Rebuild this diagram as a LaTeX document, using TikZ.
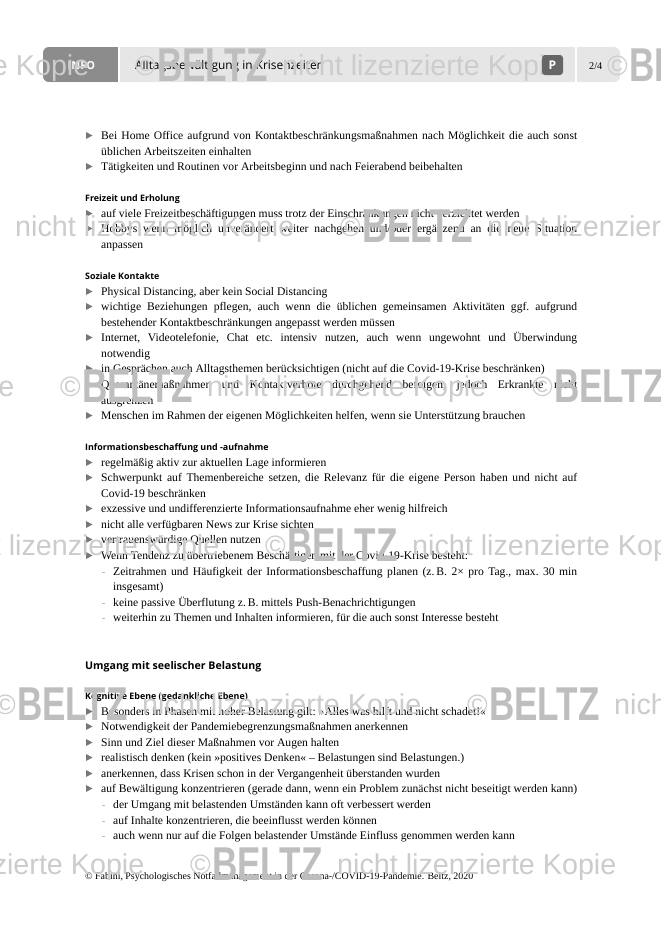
\documentclass[tikz,border=0pt]{standalone}
\usepackage{fontspec}
\usepackage{graphicx}
\setmainfont{Liberation Serif}
\setsansfont{Open Sans}
\newfontfamily\wmfont{Liberation Sans}
\definecolor{barlight}{HTML}{E6E6E6}
\definecolor{bardark}{HTML}{8C8C8C}
\definecolor{badge}{HTML}{666666}
\definecolor{wmgrey}{HTML}{BEBEBE}
\definecolor{wmlight}{HTML}{CCCCCC}
\definecolor{markgrey}{HTML}{777777}
\tikzset{
  body/.style={anchor=base west,inner sep=0pt,font=\fontsize{11.6}{13}\selectfont\frenchspacing},
  head/.style={anchor=base west,inner sep=0pt,font=\sffamily\bfseries\fontsize{8.9}{10}\selectfont},
  wmtext/.style={anchor=base west,inner sep=0pt,text=wmlight}
}
\newcommand{\bulmark}[1]{\fill[markgrey] (86,#1-7) -- (92.5,#1-3.5) -- (86,#1) -- cycle;}
\newcommand{\dashmark}[1]{\draw[wmgrey,line width=0.6pt] (102,#1-3) -- (105,#1-3);}
\newcommand{\full}[2][476]{\makebox[#1pt][s]{#2}}
\begin{document}
\begin{tikzpicture}[x=1pt,y=-1pt]
    \useasboundingbox (0,0) rectangle (661,935);
    \fill[white] (0,0) rectangle (661,935);
    % header bar
    \fill[barlight,rounded corners=6pt] (43,47) rectangle (620,82);
    \fill[white] (575,47) rectangle (577,82);
    \fill[white] (118,47) rectangle (119.5,82);
    \begin{scope}
      \clip[rounded corners=6pt] (43,47) rectangle (620,82);
      \fill[bardark] (43,47) rectangle (118,82);
    \end{scope}
    \node[head,text=white,font=\sffamily\bfseries\fontsize{11}{13}\selectfont] (info) at (67.5,69.5) {INFO};
    \node[anchor=base west,inner sep=0pt,font=\sffamily\fontsize{11.9}{13}\selectfont] (title) at (135,69.5) {Alltagsbewältigung in Krisenzeiten};
    \node[anchor=base west,inner sep=0pt,font=\fontsize{10.3}{12}\selectfont] (pagenr) at (589,69) {2/4};
    % first block
    \bulmark{139}
    \node[body] (a1) at (101,139) {\full{Bei Home Office aufgrund von Kontaktbeschränkungsmaßnahmen nach Möglichkeit die auch sonst}};
    \node[body] (a2) at (101,155) {üblichen Arbeitszeiten einhalten};
    \bulmark{170}
    \node[body] (a3) at (101,170) {Tätigkeiten und Routinen vor Arbeitsbeginn und nach Feierabend beibehalten};
    % Freizeit
    \node[head] (h1) at (85,201) {Freizeit und Erholung};
    \bulmark{217}
    \node[body] (b1) at (101,217) {auf viele Freizeitbeschäftigungen muss trotz der Einschränkungen nicht verzichtet werden};
    \bulmark{232}
    \node[body] (b2) at (101,232) {\full{Hobbys wenn möglich unverändert weiter nachgehen und/oder ergänzend an die neue Situation}};
    \node[body] (b3) at (101,248) {anpassen};
    % Kontakte
    \node[head] (h2) at (85,279) {Soziale Kontakte};
    \bulmark{295}
    \node[body] (c1) at (101,295) {Physical Distancing, aber kein Social Distancing};
    \bulmark{310}
    \node[body] (c2) at (101,310) {\full{wichtige Beziehungen pflegen, auch wenn die üblichen gemeinsamen Aktivitäten ggf. aufgrund}};
    \node[body] (c3) at (101,326) {bestehender Kontaktbeschränkungen angepasst werden müssen};
    \bulmark{341}
    \node[body] (c4) at (101,341) {\full{Internet, Videotelefonie, Chat etc. intensiv nutzen, auch wenn ungewohnt und Überwindung}};
    \node[body] (c5) at (101,357) {notwendig};
    \bulmark{372}
    \node[body] (c6) at (101,372) {in Gesprächen auch Alltagsthemen berücksichtigen (nicht auf die Covid-19-Krise beschränken)};
    \bulmark{388}
    \node[body] (c7) at (101,388) {\full{Quarantänemaßnahmen und Kontaktverbote durchgehend befolgen, jedoch Erkrankte nicht}};
    \node[body] (c8) at (101,404) {ausgrenzen};
    \bulmark{419}
    \node[body] (c9) at (101,419) {Menschen im Rahmen der eigenen Möglichkeiten helfen, wenn sie Unterstützung brauchen};
    % Information
    \node[head] (h3) at (85,450) {Informationsbeschaffung und -aufnahme};
    \bulmark{466}
    \node[body] (d1) at (101,466) {regelmäßig aktiv zur aktuellen Lage informieren};
    \bulmark{481}
    \node[body] (d2) at (101,481) {\full{Schwerpunkt auf Themenbereiche setzen, die Relevanz für die eigene Person haben und nicht auf}};
    \node[body] (d3) at (101,497) {Covid-19 beschränken};
    \bulmark{512}
    \node[body] (d4) at (101,512) {exzessive und undifferenzierte Informationsaufnahme eher wenig hilfreich};
    \bulmark{528}
    \node[body] (d5) at (101,528) {nicht alle verfügbaren News zur Krise sichten};
    \bulmark{543}
    \node[body] (d6) at (101,543) {vertrauenswürdige Quellen nutzen};
    \bulmark{559}
    \node[body] (d7) at (101,559) {Wenn Tendenz zu übertriebenem Beschäftigen mit der Covid-19-Krise besteht:};
    \dashmark{575}
    \node[body] (d8) at (113,575) {\full[464]{Zeitrahmen und Häufigkeit der Informationsbeschaffung planen (z.\,B. 2× pro Tag., max. 30 min}};
    \node[body] (d9) at (113,590) {insgesamt)};
    \dashmark{606}
    \node[body] (d10) at (113,606) {keine passive Überflutung z.\,B. mittels Push-Benachrichtigungen};
    \dashmark{621}
    \node[body] (d11) at (113,621) {weiterhin zu Themen und Inhalten informieren, für die auch sonst Interesse besteht};
    % seelische Belastung
    \node[head,font=\sffamily\bfseries\fontsize{10.6}{12}\selectfont] (h4) at (85,669) {Umgang mit seelischer Belastung};
    \node[head] (h5) at (85,699) {Kognitive Ebene (gedankliche Ebene)};
    \bulmark{715}
    \node[body] (e1) at (101,715) {Besonders in Phasen mit hoher Belastung gilt: »Alles was hilft und nicht schadet!«};
    \bulmark{730}
    \node[body] (e2) at (101,730) {Notwendigkeit der Pandemiebegrenzungsmaßnahmen anerkennen};
    \bulmark{746}
    \node[body] (e3) at (101,746) {Sinn und Ziel dieser Maßnahmen vor Augen halten};
    \bulmark{761}
    \node[body] (e4) at (101,761) {realistisch denken (kein »positives Denken« – Belastungen sind Belastungen.)};
    \bulmark{777}
    \node[body] (e5) at (101,777) {anerkennen, dass Krisen schon in der Vergangenheit überstanden wurden};
    \bulmark{792}
    \node[body] (e6) at (101,792) {\full{auf Bewältigung konzentrieren (gerade dann, wenn ein Problem zunächst nicht beseitigt werden kann)}};
    \dashmark{808}
    \node[body] (e7) at (113,808) {der Umgang mit belastenden Umständen kann oft verbessert werden};
    \dashmark{824}
    \node[body] (e8) at (113,824) {auf Inhalte konzentrieren, die beeinflusst werden können};
    \dashmark{839}
    \node[body] (e9) at (113,839) {auch wenn nur auf die Folgen belastender Umstände Einfluss genommen werden kann};
    % footer
    \node[anchor=base west,inner sep=0pt,font=\fontsize{9.9}{11}\selectfont] (foot) at (85,879) {© Fabini, Psychologisches Notfallmanagement in der Corona-/COVID-19-Pandemie. Beltz, 2020};
    % watermark rows
    \foreach \rowx/\rowy/\rowk in {135/81/a,340/242/b,60/402/c,265/561/d,-5/720/e,190/880/f} {
      \foreach \k in {-1,0,1} {
        \node[wmtext,font=\wmfont\fontsize{28}{30}\selectfont] (cp\rowk\k) at (\rowx+\k*472,\rowy-6) {©};
        \node[wmtext,text=wmgrey,font=\wmfont\bfseries\fontsize{47.5}{49}\selectfont] (bz\rowk\k) at (\rowx+\k*472+22,\rowy) {\scalebox{0.738}[1]{BELTZ}};
        \node[wmtext,font=\wmfont\fontsize{28.7}{30}\selectfont] (nl\rowk\k) at (\rowx+\k*472+147,\rowy-6) {nicht lizenzierte Kopie};
      }
    }
    % page badge
    \fill[badge,rounded corners=3pt] (542,55) rectangle (563,75);
    \node[head,text=white,font=\sffamily\bfseries\fontsize{12}{14}\selectfont,anchor=center] (pbadge) at (552.5,65) {P};
\end{tikzpicture}
\end{document}
